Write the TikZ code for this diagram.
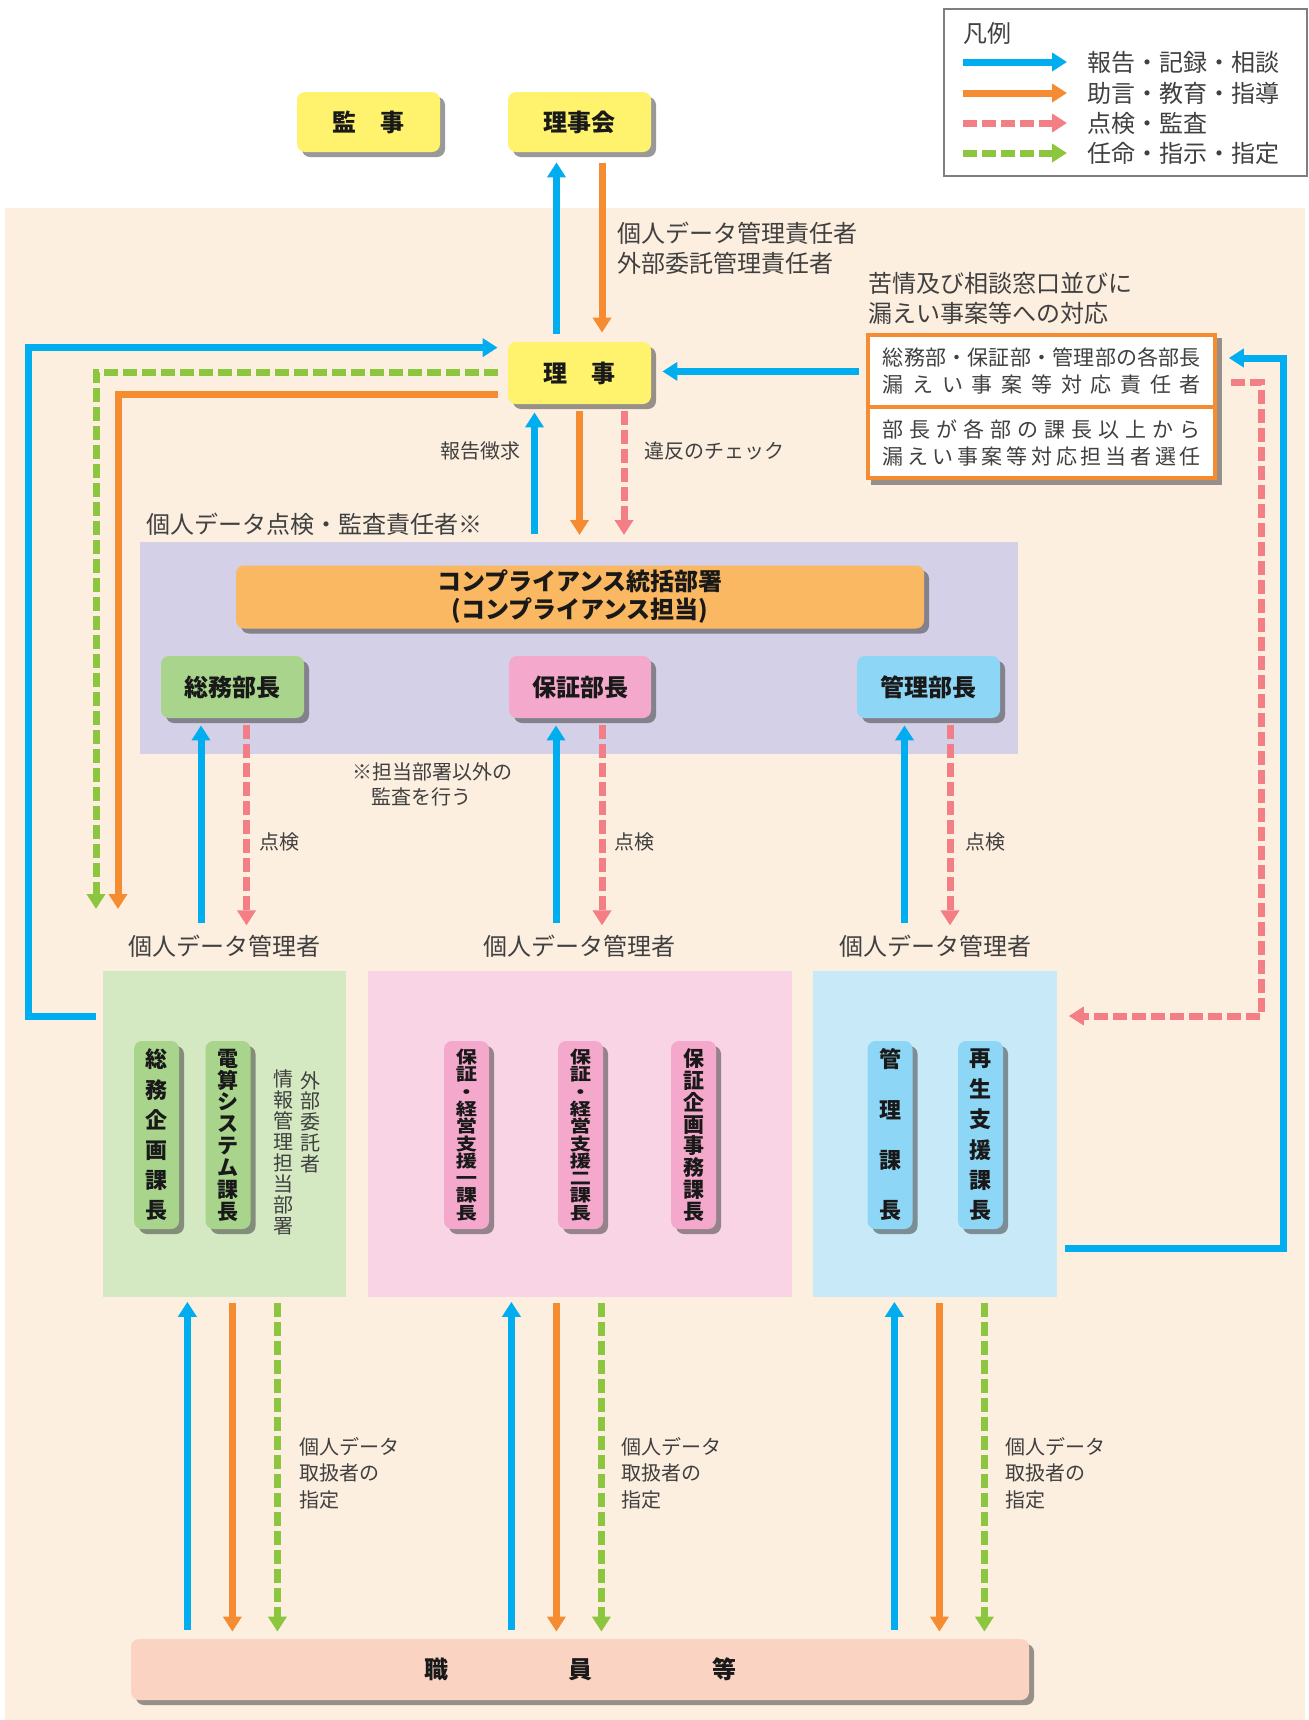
\documentclass[tikz,border=0pt]{standalone}
\usepackage{fontspec}
\setmainfont{Noto Sans CJK JP}
\usetikzlibrary{arrows.meta,shadows,calc}
\definecolor{cpeach}{HTML}{FDEFE0}
\definecolor{cyellow}{HTML}{FFF36E}
\definecolor{clav}{HTML}{D4D0E7}
\definecolor{corgbox}{HTML}{FBB862}
\definecolor{hgreen}{HTML}{A9D48C}
\definecolor{hpink}{HTML}{F4A9CC}
\definecolor{hblue}{HTML}{8ED6F5}
\definecolor{rgreen}{HTML}{D4E8C2}
\definecolor{rpink}{HTML}{F8D4E5}
\definecolor{rblue}{HTML}{C7E9F8}
\definecolor{csalmon}{HTML}{FBD3C2}
\definecolor{cblue}{HTML}{00AEEF}
\definecolor{corange}{HTML}{F58C32}
\definecolor{cpink}{HTML}{F37E86}
\definecolor{cgreen}{HTML}{8CC63F}
\definecolor{txt}{HTML}{404040}
\definecolor{lgray}{HTML}{7F7F7F}
\newcommand\vstk[3]{\parbox[c][#2][s]{20pt}{\parindent=0pt\parskip=0pt\centering\fontsize{#1}{#1}\selectfont\def\\{\par\vfill}#3\par}}
\tikzset{
  shd/.style={drop shadow={shadow xshift=2.5pt,shadow yshift=-2.5pt,fill=black!80,opacity=0.5}},
  bx/.style={shd,rounded corners=4pt,inner sep=0pt,align=center,text=black!90,font=\bfseries\fontsize{12}{14}\selectfont},
  vbx/.style={bx,minimum width=22.5pt,minimum height=94pt},
  region/.style={inner sep=0pt,draw=none,anchor=north west},
  lbl/.style={inner sep=0pt,text=txt,font=\fontsize{12}{15}\selectfont,align=left},
  slbl/.style={inner sep=0pt,text=txt,font=\fontsize{10}{13.25}\selectfont,align=left},
  vtxt/.style={inner sep=0pt,text=txt},
  wline/.style={line width=3.5pt},
  arrowhd/.style={-{Triangle[width=9pt,length=7.5pt]}},
  bA/.style={wline,cblue,arrowhd},
  oA/.style={wline,corange,arrowhd},
  pA/.style={wline,cpink,arrowhd,dash pattern=on 7pt off 2.5pt},
  gA/.style={wline,cgreen,arrowhd,dash pattern=on 7pt off 2.5pt},
}
\begin{document}
\begin{tikzpicture}[x=0.5pt,y=-0.5pt]
\useasboundingbox (0,0) rectangle (1309,1720);
\fill[cpeach] (5,208) rectangle (1305,1720);

% legend
\node[draw=lgray,line width=0.75pt,fill=white,minimum width=181.5pt,minimum height=83.5pt,anchor=north west,inner sep=0pt] (legend) at (943,8) {};
\node[lbl,anchor=west] (lgt) at (963,33) {凡例};
\node[lbl,anchor=west] (lg1) at (1087,62) {報告・記録・相談};
\node[lbl,anchor=west] (lg2) at (1087,93) {助言・教育・指導};
\node[lbl,anchor=west] (lg3) at (1087,123) {点検・監査};
\node[lbl,anchor=west] (lg4) at (1087,153) {任命・指示・指定};
\draw[bA] ($(lg1.west)+(-124,0)$) -- ($(lg1.west)+(-20,0)$);
\draw[oA] ($(lg2.west)+(-124,0)$) -- ($(lg2.west)+(-20,0)$);
\draw[pA] ($(lg3.west)+(-124,0)$) -- ($(lg3.west)+(-20,0)$);
\draw[gA] ($(lg4.west)+(-124,0)$) -- ($(lg4.west)+(-20,0)$);

% top boxes
\node[bx,fill=cyellow,minimum width=71.5pt,minimum height=30pt] (kanji) at (368.5,122) {監\hspace{1em}事};
\node[bx,fill=cyellow,minimum width=71.5pt,minimum height=30pt] (rijikai) at (579.5,122) {理事会};
\node[bx,fill=cyellow,minimum width=71.5pt,minimum height=31pt] (riji) at (579.5,373) {理\hspace{1em}事};

% lavender area
\node[region,fill=clav,minimum width=439pt,minimum height=106pt] (lav) at (140,542) {};
\node[bx,fill=corgbox,minimum width=344pt,minimum height=31.5pt] (compl) at (580,597) {コンプライアンス統括部署\\(コンプライアンス担当)};
\node[bx,fill=hgreen,minimum width=71.5pt,minimum height=31pt] (hsomu) at (232.5,687) {総務部長};
\node[bx,fill=hpink,minimum width=71pt,minimum height=31pt] (hhosho) at (580,687) {保証部長};
\node[bx,fill=hblue,minimum width=71.5pt,minimum height=31pt] (hkanri) at (928.5,687) {管理部長};
\node[lbl,anchor=west] (tenkenlbl) at (146,524) {個人データ点検・監査責任者※};
\node[slbl,anchor=west,font=\fontsize{10}{12.5}\selectfont] (note) at (352,784.5) {※担当部署以外の\\\hspace*{0.95em}監査を行う};

% response box
\node[shd,fill=corange,minimum width=175.5pt,minimum height=73.5pt,anchor=north west,inner sep=0pt] (resp) at (866,333) {};
\node[fill=white,minimum width=171.5pt,minimum height=34pt,anchor=north west,inner sep=0pt,text=txt,align=center,font=\fontsize{10.5}{13.5}\selectfont] (resp1) at (870,337)
 {\makebox[159pt][s]{総\hfill 務\hfill 部\hfill ・\hfill 保\hfill 証\hfill 部\hfill ・\hfill 管\hfill 理\hfill 部\hfill の\hfill 各\hfill 部\hfill 長}\\
  \makebox[159pt][s]{漏\hfill え\hfill い\hfill 事\hfill 案\hfill 等\hfill 対\hfill 応\hfill 責\hfill 任\hfill 者}};
\node[fill=white,minimum width=171.5pt,minimum height=33.5pt,anchor=north west,inner sep=0pt,text=txt,align=center,font=\fontsize{10.5}{13.5}\selectfont] (resp2) at (870,409)
 {\makebox[159pt][s]{部\hfill 長\hfill が\hfill 各\hfill 部\hfill の\hfill 課\hfill 長\hfill 以\hfill 上\hfill か\hfill ら}\\
  \makebox[159pt][s]{漏\hfill え\hfill い\hfill 事\hfill 案\hfill 等\hfill 対\hfill 応\hfill 担\hfill 当\hfill 者\hfill 選\hfill 任}};
\node[lbl,anchor=west] (kujo) at (868,298) {苦情及び相談窓口並びに\\漏えい事案等への対応};
\node[lbl,anchor=west] (sekinin) at (617,248) {個人データ管理責任者\\外部委託管理責任者};

% regions
\node[region,fill=rgreen,minimum width=121.5pt,minimum height=163pt] (rg) at (103,971) {};
\node[region,fill=rpink,minimum width=212pt,minimum height=163pt] (rp) at (368,971) {};
\node[region,fill=rblue,minimum width=122pt,minimum height=163pt] (rb) at (813,971) {};
\node[lbl] (mg1) at (224,946) {個人データ管理者};
\node[lbl] (mg2) at (579,946) {個人データ管理者};
\node[lbl] (mg3) at (935,946) {個人データ管理者};

% vertical boxes
\node[vbx,fill=hgreen] (v1) at (156.5,1135) {\vstk{11}{85pt}{総\\務\\企\\画\\課\\長}};
\node[vbx,fill=hgreen] (v2) at (228,1135) {\vstk{10.5}{85pt}{電\\算\\シ\\ス\\テ\\ム\\課\\長}};
\node[vtxt] (gai) at (310,1122) {\vstk{10}{50pt}{外\\部\\委\\託\\者}};
\node[vtxt] (joho) at (283,1152) {\vstk{10}{82pt}{情\\報\\管\\理\\担\\当\\部\\署}};
\node[vbx,fill=hpink] (v3) at (466.5,1135) {\addfontfeatures{FakeStretch=1.25}\vstk{8.5}{85pt}{保\\証\\・\\経\\営\\支\\援\\一\\課\\長}};
\node[vbx,fill=hpink] (v4) at (580.5,1135) {\addfontfeatures{FakeStretch=1.25}\vstk{8.5}{85pt}{保\\証\\・\\経\\営\\支\\援\\二\\課\\長}};
\node[vbx,fill=hpink] (v5) at (693.5,1135) {\vstk{10.5}{85pt}{保\\証\\企\\画\\事\\務\\課\\長}};
\node[vbx,fill=hblue] (v6) at (890,1135) {\vstk{11}{85pt}{管\\理\\課\\長}};
\node[vbx,fill=hblue] (v7) at (980.5,1135) {\vstk{11}{85pt}{再\\生\\支\\援\\課\\長}};

% staff
\node[bx,fill=csalmon,minimum width=449pt,minimum height=30.5pt] (staff) at (580,1669.5) {職\hspace{5em}員\hspace{5em}等};

% arrows riji <-> rijikai
\draw[bA] ($(riji.north)+(-23,-8)$) -- ($(rijikai.south)+(-23,10)$);
\draw[oA] ($(rijikai.south)+(22.5,11)$) -- ($(riji.north)+(22.5,-9)$);

% resp -> riji
\coordinate (rijiR) at ($(riji.east)+(11,0)$);
\draw[bA] ($(resp1.west)+(-11,0)$) -- (rijiR |- resp1.west);

% left loops
\coordinate (xL1) at (28,0);
\coordinate (sL1) at ($(rg.north west)+(-7,45)$);
\coordinate (eL1) at ($(riji.north west)+(-10,6)$);
\draw[bA] (sL1) -- (sL1 -| xL1) -- (xL1 |- eL1) -- (eL1);
\coordinate (sL2) at ($(riji.west)+(-10,-1)$);
\coordinate (eL2) at (96,909);
\draw[gA] (sL2) -- (eL2 |- sL2) -- (eL2);
\coordinate (sL3) at ($(riji.west)+(-10,21)$);
\coordinate (eL3) at (118,909);
\draw[oA] (sL3) -- (eL3 |- sL3) -- (eL3);

% riji <-> lavender
\draw[bA] ($(riji.south |- lav.north)+(-45,-8)$) -- ($(riji.south)+(-45,8)$);
\draw[oA] ($(riji.south)+(0,7)$) -- ($(riji.south |- lav.north)+(0,-7)$);
\draw[pA] ($(riji.south)+(44.5,7)$) -- ($(riji.south |- lav.north)+(44.5,-7)$);
\node[slbl,anchor=east] (hokoku) at (521,451) {報告徴求};
\node[slbl,anchor=west] (ihan) at (644,451) {違反のチェック};

% dept heads <-> managers
\draw[bA] ($(hsomu.south)+(-31.5,205)$) -- ($(hsomu.south)+(-31.5,7)$);
\draw[pA] ($(hsomu.south)+(14,7)$) -- ($(hsomu.south)+(14,207)$);
\draw[bA] ($(hhosho.south)+(-24,205)$) -- ($(hhosho.south)+(-24,7)$);
\draw[pA] ($(hhosho.south)+(22,7)$) -- ($(hhosho.south)+(22,207)$);
\draw[bA] ($(hkanri.south)+(-24,205)$) -- ($(hkanri.south)+(-24,7)$);
\draw[pA] ($(hkanri.south)+(21.5,7)$) -- ($(hkanri.south)+(21.5,207)$);
\node[slbl,anchor=west] (tk1) at (259,842) {点検};
\node[slbl,anchor=west] (tk2) at (614.5,842) {点検};
\node[slbl,anchor=west] (tk3) at (965.5,842) {点検};

% regions <-> staff
\draw[bA] ($(rg.south |- staff.north)+(-37.5,-9)$) -- ($(rg.south)+(-37.5,4)$);
\draw[oA] ($(rg.south)+(7.5,5)$) -- ($(rg.south |- staff.north)+(7.5,-7)$);
\draw[gA] ($(rg.south)+(52.5,5)$) -- ($(rg.south |- staff.north)+(52.5,-7)$);
\draw[bA] ($(rp.south |- staff.north)+(-69,-9)$) -- ($(rp.south)+(-69,4)$);
\draw[oA] ($(rp.south)+(-24,5)$) -- ($(rp.south |- staff.north)+(-24,-7)$);
\draw[gA] ($(rp.south)+(21,5)$) -- ($(rp.south |- staff.north)+(21,-7)$);
\draw[bA] ($(rb.south |- staff.north)+(-41,-9)$) -- ($(rb.south)+(-41,4)$);
\draw[oA] ($(rb.south)+(4,5)$) -- ($(rb.south |- staff.north)+(4,-7)$);
\draw[gA] ($(rb.south)+(49,5)$) -- ($(rb.south |- staff.north)+(49,-7)$);
\node[slbl,anchor=west] (sh1) at (299,1473) {個人データ\\取扱者の\\指定};
\node[slbl,anchor=west] (sh2) at (621,1473) {個人データ\\取扱者の\\指定};
\node[slbl,anchor=west] (sh3) at (1005,1473) {個人データ\\取扱者の\\指定};

% right loops
\coordinate (xR1) at (1283,0);
\coordinate (sR1) at ($(rb.south east)+(7,-49)$);
\coordinate (eR1) at ($(resp.north east)+(11,25)$);
\draw[bA] (sR1) -- (sR1 -| xR1) -- (xR1 |- eR1) -- (eR1);
\coordinate (xR2) at (1261,0);
\coordinate (sR2) at ($(resp.north east)+(13,49)$);
\coordinate (eR2) at ($(rb.north east)+(11,45)$);
\draw[pA] (sR2) -- (sR2 -| xR2) -- (xR2 |- eR2) -- (eR2);
\end{tikzpicture}
\end{document}
